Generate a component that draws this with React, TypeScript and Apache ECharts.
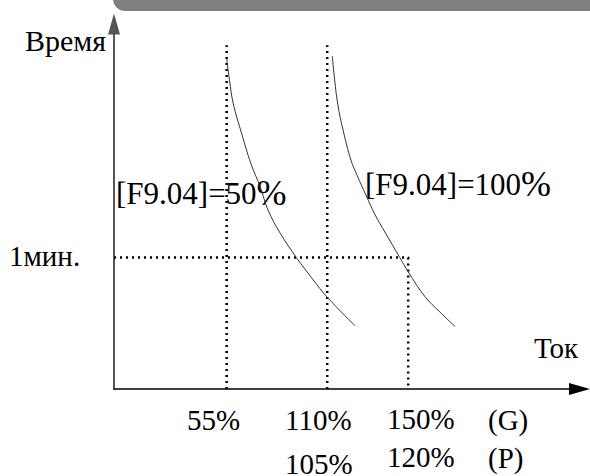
import React, { useEffect, useRef } from "react";
import * as echarts from "echarts";

// Schematic relative units (0..100) on both axes
const curveLow: [number, number][] = [
  [24.2, 90.6], [24.8, 84.7], [25.6, 78.3], [27.4, 70.1], [29.4, 61.8], [31.4, 55.4],
  [33.1, 49.0], [35.7, 42.7], [39.2, 36.0], [42.8, 29.9], [45.7, 25.3], [51.8, 17.3],
];
const curveHigh: [number, number][] = [
  [46.9, 91.2], [47.4, 84.7], [48.1, 77.8], [49.2, 71.0], [50.9, 62.7], [52.2, 58.6],
  [54.1, 53.2], [56.1, 47.7], [58.2, 43.0], [61.4, 36.0], [63.2, 32.1], [66.8, 25.3],
  [70.0, 21.1], [73.3, 17.1],
];
const guideX = [24.2, 45.8];
const guideTop = 94.2;
const oneMinute = 36.0;
const guideX3 = 63.2;

const gLabels = ["55%", "110%", "150%", "(G)"];
const pLabels = ["105%", "120%", "(P)"];

const FONT = "Liberation Serif";

export default function App() {
  const ref = useRef<HTMLDivElement>(null);
  useEffect(() => {
    if (!ref.current) return;
    const chart = echarts.init(ref.current, null, { renderer: "svg" });
    const dotted = { color: "#000", width: 2.5, type: [2, 4] as number[] };
    const txt = (text: string, x: number, y: number, size: number) => ({
      type: "text",
      x,
      y,
      style: { text, fill: "#000", fontSize: size, fontFamily: FONT, textAlign: "left", verticalAlign: "middle" },
    });
    const rich = {
      a: { fontSize: 31, fontFamily: FONT, color: "#000" },
      b: { fontSize: 36, fontFamily: FONT, color: "#000" },
    };
    chart.setOption({
      animation: false,
      backgroundColor: "#fff",
      grid: { left: 114, right: 10.5, top: 24, bottom: 87 },
      xAxis: {
        type: "value", min: 0, max: 100,
        axisLine: { show: true, lineStyle: { color: "#000", width: 1.5 }, symbol: ["none", "triangle"], symbolSize: [12, 21] },
        axisTick: { show: false }, axisLabel: { show: false }, splitLine: { show: false },
      },
      yAxis: {
        type: "value", min: 0, max: 100,
        axisLine: { show: true, lineStyle: { color: "#555", width: 2 }, symbol: ["none", "triangle"], symbolSize: [12, 21] },
        axisTick: { show: false }, axisLabel: { show: false }, splitLine: { show: false },
      },
      series: [
        ...guideX.map((x) => ({
          type: "line", data: [[x, 0], [x, guideTop]], symbol: "none", lineStyle: dotted, z: 1,
        })),
        {
          type: "line", data: [[0, oneMinute], [guideX3, oneMinute], [guideX3, 0]], symbol: "none", lineStyle: dotted, z: 1,
        },
        { type: "line", data: curveLow, smooth: 0.4, symbol: "none", lineStyle: { color: "#333", width: 1 }, z: 2 },
        { type: "line", data: curveHigh, smooth: 0.4, symbol: "none", lineStyle: { color: "#333", width: 1 }, z: 2 },
      ],
      graphic: [
        { type: "rect", shape: { x: 113, y: -15, width: 500, height: 26, r: 12 }, style: { fill: "#808080" } },
        txt("Время", 25, 40, 30),
        txt("1мин.", 9, 256, 29),
        {
          type: "text", x: 116, y: 193,
          style: { text: "{a|[F9.04]=50}{b|%}", verticalAlign: "middle", textAlign: "left", rich },
        },
        {
          type: "text", x: 365, y: 184,
          style: { text: "{a|[F9.04]=100}{b|%}", verticalAlign: "middle", textAlign: "left", rich },
        },
        txt("Ток", 534, 348, 29),
        txt(gLabels[0], 187, 420, 29),
        txt(gLabels[1], 285, 420, 29),
        txt(gLabels[2], 387, 419, 29),
        txt(gLabels[3], 488, 420, 29),
        txt(pLabels[0], 285, 464, 29),
        txt(pLabels[1], 387, 457, 29),
        txt(pLabels[2], 488, 458, 29),
      ],
    });
    return () => chart.dispose();
  }, []);
  return <div ref={ref} style={{ position: "fixed", left: 0, top: 0, width: 590, height: 476 }} />;
}
